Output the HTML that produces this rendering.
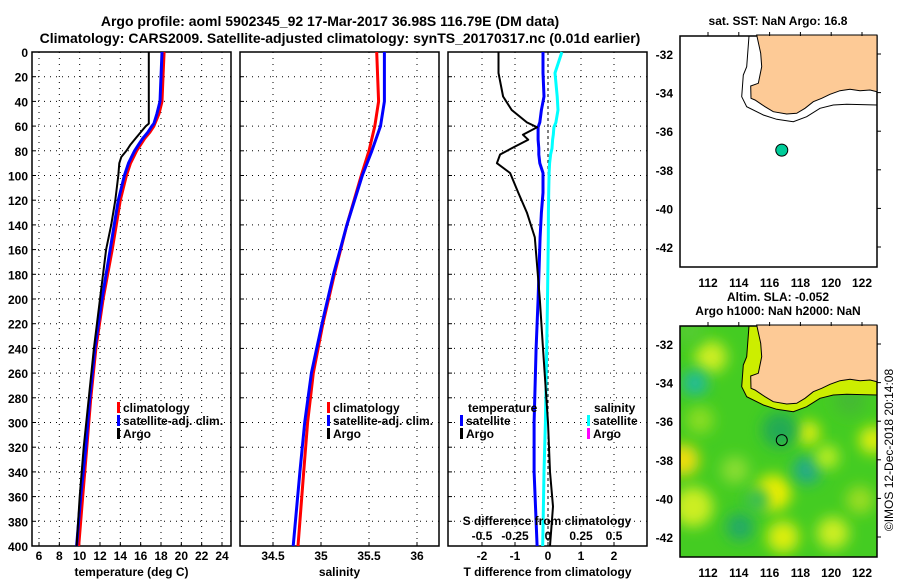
<!DOCTYPE html>
<html><head><meta charset="utf-8"><style>
body{margin:0;background:#fff;}
svg{display:block;font-family:"Liberation Sans",sans-serif;font-weight:bold;}
</style></head><body>
<svg id="chart" width="900" height="580" viewBox="0 0 900 580">
<defs>
<filter id="blur" x="-50%" y="-50%" width="200%" height="200%"><feGaussianBlur stdDeviation="7"/></filter>
<clipPath id="map2clip"><rect x="680" y="326" width="197" height="231"/></clipPath>
</defs>
<text x="330" y="26" font-size="14" text-anchor="middle">Argo profile: aoml 5902345_92 17-Mar-2017 36.98S 116.79E (DM data)</text>
<text x="340" y="43" font-size="14" text-anchor="middle">Climatology: CARS2009. Satellite-adjusted climatology: synTS_20170317.nc (0.01d earlier)</text>
<g id="g"></g>
</svg>
<script>
// ---- data ----
const depthsT = [0,20,40,50,58,60,65,70,75,80,85,90,100,120,140,160,200,240,280,320,360,400];
const tempClim = [18.3,18.2,18.1,17.8,17.4,17.3,16.9,16.4,16.0,15.6,15.3,15.0,14.6,14.0,13.6,13.2,12.3,11.6,11.1,10.7,10.3,9.9];
const tempSat  = [18.1,18.0,17.9,17.6,17.3,17.1,16.7,16.2,15.8,15.4,15.1,14.8,14.4,13.8,13.4,13.0,12.2,11.5,11.0,10.6,10.1,9.7];
const tempArgo = [16.8,16.8,16.8,16.8,16.8,16.5,16.0,15.5,15.0,14.6,14.1,13.9,13.8,13.5,13.1,12.6,12.0,11.4,10.9,10.4,10.0,9.7];
const depthsS = [0,40,60,80,100,140,180,220,260,300,340,400];
const salClim = [35.58,35.6,35.56,35.5,35.42,35.27,35.14,35.02,34.92,34.86,34.82,34.76];
const salSat  = [35.66,35.66,35.62,35.53,35.43,35.27,35.13,35.01,34.9,34.83,34.78,34.71];
const depthsD = [0,17,36,47,57,61,67,71,78,83,90,98,114,130,150,200,240,300,340,368,400];
const dTArgo = [-1.5,-1.5,-1.36,-1.1,-0.64,-0.33,-0.76,-0.6,-1.1,-1.45,-1.55,-1.15,-0.9,-0.64,-0.4,-0.25,-0.15,0.0,0.06,0.15,0.06];
const dTSat  = [-0.15,-0.15,-0.12,-0.2,-0.25,-0.3,-0.3,-0.3,-0.28,-0.28,-0.25,-0.15,-0.15,-0.2,-0.24,-0.3,-0.36,-0.42,-0.42,-0.38,-0.33];
const dSSat  = [0.105,0.053,0.07,0.076,0.06,0.045,0.04,0.035,0.03,0.02,0.012,0.008,0.005,0.003,0.002,-0.004,-0.01,-0.02,-0.03,-0.035,-0.04];
const depthTicks = [0,20,40,60,80,100,120,140,160,180,200,220,240,260,280,300,320,340,360,380,400];
const tempTicks = [6,8,10,12,14,16,18,20,22,24];
const salTicks = [34.5,35,35.5,36];
const dTTicks = [-2,-1,0,1,2];
const dSTicks = [-0.5,-0.25,0,0.25,0.5];
const dSTickLabels = ["-0.5","-0.25","0","0.25","0.5"];
const lonTicks = [112,114,116,118,120,122];
const latTicks = [-32,-34,-36,-38,-40,-42];
const argoLon = [116.79];
const argoLat = [-36.98];

// ---- helpers ----
const NS="http://www.w3.org/2000/svg";
const G=document.getElementById('g');
function mk(tag,attrs,parent){const e=document.createElementNS(NS,tag);for(const k in attrs)e.setAttribute(k,attrs[k]);(parent||G).appendChild(e);return e;}
const top0=52, bot0=546;
const yD = d => top0 + (d/400)*(bot0-top0);
function lin(d0,d1,p0,p1){return v=>p0+(v-d0)/(d1-d0)*(p1-p0);}

function panel(x0,x1,xs,ticks,labels,title,name){
  const grp=mk('g',{});
  
  
  const r=mk('rect',{x:x0,y:top0,width:x1-x0,height:bot0-top0,fill:'#fff',stroke:'#000','stroke-width':1.5},grp);
  
  
  depthTicks.forEach(d=>{ if(d>0&&d<400){
    const l=mk('line',{x1:x0,x2:x1,y1:yD(d),y2:yD(d),stroke:'#000','stroke-dasharray':'1 5','stroke-width':1},grp);
    
    
    mk('line',{x1:x0,x2:x0+4,y1:yD(d),y2:yD(d),stroke:'#000'},grp);
  }});
  ticks.forEach((t,i)=>{
    const X=xs(t);
    const l=mk('line',{x1:X,x2:X,y1:top0,y2:bot0,stroke:'#000','stroke-dasharray':'1 5'},grp);
    
    
    mk('line',{x1:X,x2:X,y1:bot0,y2:bot0-4,stroke:'#000'},grp);
    const tx=mk('text',{x:X,y:560,'font-size':12,'text-anchor':'middle'},grp);
    tx.textContent=labels[i];
    
    
  });
  const tt=mk('text',{x:(x0+x1)/2,y:576,'font-size':12,'text-anchor':'middle'},grp);
  tt.textContent=title;
  
  
  return grp;
}
function series(grp,xs,vals,depths,color,w,name){
  const pts=vals.map((v,i)=>xs(v).toFixed(1)+','+yD(depths[i]).toFixed(1)).join(' ');
  const p=mk('polyline',{points:pts,fill:'none',stroke:color,'stroke-width':w,'stroke-linejoin':'round'},grp);
  
  
}
function legend(grp,x,y,color,label,name){
  const r=mk('rect',{x:x,y:y-10,width:3,height:11,fill:color},grp);
  const t=mk('text',{x:x+6,y:y,'font-size':12},grp);
  t.textContent=label;
  
  
}

// depth labels
depthTicks.forEach(d=>{
  const t=mk('text',{x:28,y:yD(d)+5,'font-size':12,'text-anchor':'end'});
  t.textContent=d;
  
  
});

// panel 1
const xT=lin(6,24,39,222);
const p1=panel(32,231,xT,tempTicks,tempTicks.map(String),'temperature (deg C)','temperature-panel');
series(p1,xT,tempClim,depthsT,'#ff0000',3,'temp-climatology-line');
series(p1,xT,tempSat,depthsT,'#0000ff',3,'temp-satellite-line');
series(p1,xT,tempArgo,depthsT,'#000',2,'temp-argo-line');
legend(p1,117,412,'#ff0000','climatology','legend-climatology');
legend(p1,117,425,'#0000ff','satellite-adj. clim.','legend-satellite-adj');
legend(p1,117,438,'#000','Argo','legend-argo');

// panel 2
const xS=lin(34.5,36,273,417);
const p2=panel(240,439,xS,salTicks,["34.5","35","35.5","36"],'salinity','salinity-panel');
series(p2,xS,salClim,depthsS,'#ff0000',3,'sal-climatology-line');
series(p2,xS,salSat,depthsS,'#0000ff',3,'sal-satellite-line');
legend(p2,327,412,'#ff0000','climatology','legend-climatology');
legend(p2,327,425,'#0000ff','satellite-adj. clim.','legend-satellite-adj');
legend(p2,327,438,'#000','Argo','legend-argo');

// panel 3
const xDT=lin(-2,2,482,614);
const xDS=lin(-0.5,0.5,482,614);
const p3=panel(448,647,xDT,dTTicks,["-2","-1","0","1","2"],'T difference from climatology','difference-panel');
const z=mk('line',{x1:xDT(0),x2:xDT(0),y1:top0,y2:bot0,stroke:'#000','stroke-dasharray':'3 3'},p3);
series(p3,xDT,dTSat,depthsD,'#0000ff',3,'dT-satellite-line');
series(p3,xDS,dSSat,depthsD,'#00ffff',3,'dS-satellite-line');
series(p3,xDT,dTArgo,depthsD,'#000',2,'dT-argo-line');
const lt=mk('text',{x:468,y:412,'font-size':12},p3);lt.textContent='temperature';


legend(p3,460,425,'#0000ff','satellite','legend-temp-satellite');
legend(p3,460,438,'#000','Argo','legend-temp-argo');
const ls=mk('text',{x:594,y:412,'font-size':12},p3);ls.textContent='salinity';


legend(p3,587,425,'#00ffff','satellite','legend-sal-satellite');
legend(p3,587,438,'#ff00ff','Argo','legend-sal-argo');
const st=mk('text',{x:547,y:525,'font-size':12,'text-anchor':'middle'},p3);st.textContent='S difference from climatology';


dSTicks.forEach((t,i)=>{
  const e=mk('text',{x:xDS(t),y:540,'font-size':12,'text-anchor':'middle'},p3);
  e.textContent=dSTickLabels[i];
  
  
});

// ---- maps ----
const lonX=lin(112,122,708,862);
function latY(top){return lin(-32,-42,top+18,top+211);}
const land=[[756.7,35],[760.7,53.3],[761.7,66.7],[760,75],[758.3,83.3],[750.7,86],[751,98.3],[755,100],[765,106.7],[773.3,111.7],[786.7,114],[796.7,113.3],[805,108.3],[813.3,101.7],[821.7,98.3],[830,94.3],[840,90.7],[850,89.3],[860,90.7],[870,90],[877,91.7],[877,35]];
const contour=[[749,36],[746.7,66.7],[743.3,75],[741.7,96.7],[746.7,106.7],[763.3,115],[776.7,119.3],[793.3,121.7],[806.7,116.7],[820,108.3],[833.3,105],[846.7,104.3],[877,105]];
function pstr(a,dy){return a.map(p=>p[0]+','+(p[1]+dy)).join(' ');}
function map(top,dy,sla,name,title1,title2){
  const grp=mk('g',{});
  
  
  const ly=latY(top);
  if(sla){
    const c=mk('g',{'clip-path':'url(#map2clip)'},grp);
    mk('rect',{x:680,y:top,width:197,height:231,fill:'#44cc22'},c);
    const blobs=[[711,357,'#ccee22',16],[695,383,'#22bb99',13],[683,460,'#eedd11',16],[773,493,'#eeee00',18],[807,470,'#22aa88',14],[808,433,'#ddee11',12],[693,507,'#ccee22',20],[740,527,'#22aa66',14],[783,537,'#ddee11',16],[833,533,'#ccee22',16],[873,440,'#ddee11',14],[757,500,'#33bb55',12],[827,457,'#bbee22',12],[780,430,'#22aa55',18],[700,420,'#88dd22',14],[860,500,'#99dd22',14],[690,330,'#55cc33',14],[735,470,'#88dd33',14],[850,400,'#44bb33',16]];
    blobs.forEach(b=>mk('circle',{cx:b[0],cy:b[1],r:b[3],fill:b[2],filter:'url(#blur)'},c));
    mk('polygon',{points:pstr(contour,dy)+' 877,'+(35+dy),fill:'#ccee00'},c);
  }
  const f=mk('rect',{x:680,y:top,width:197,height:231,fill:'none',stroke:'#000','stroke-width':1.5},grp);
  const lp=mk('polygon',{points:pstr(land,dy),fill:'#fdca96',stroke:'#000','stroke-width':1},grp);
  
  
  mk('polyline',{points:pstr(contour,dy),fill:'none',stroke:'#000','stroke-width':1},grp);
  lonTicks.forEach(l=>{
    const X=lonX(l);
    mk('line',{x1:X,x2:X,y1:top,y2:top-4,stroke:'#000'},grp);
    const t=mk('text',{x:X,y:top+251,'font-size':12,'text-anchor':'middle'},grp);t.textContent=l;
    
    
  });
  latTicks.forEach(l=>{
    const Y=ly(l);
    mk('line',{x1:877,x2:881,y1:Y,y2:Y,stroke:'#000'},grp);
    const t=mk('text',{x:673,y:Y+5,'font-size':12,'text-anchor':'end'},grp);t.textContent=l;
    
    
  });
  argoLon.forEach((lo,i)=>{
    const m=mk('circle',{cx:lonX(lo),cy:ly(argoLat[i]),r:sla?5.5:6,fill:sla?'none':'#00cc99',stroke:'#000','stroke-width':1},grp);
    
    
  });
  const t1=mk('text',{x:778,y:top-11-(title2?14:0),'font-size':12,'text-anchor':'middle'},grp);t1.textContent=title1;
  
  
  if(title2){const t2=mk('text',{x:778,y:top-11,'font-size':12,'text-anchor':'middle'},grp);t2.textContent=title2;
    
    }
}
map(36,0,false,'sst-map','sat. SST: NaN Argo: 16.8');
map(326,290,true,'sla-map','Altim. SLA: -0.052','Argo h1000: NaN h2000: NaN');
const cr=mk('text',{x:0,y:0,'font-size':12,'text-anchor':'middle',transform:'translate(893,450) rotate(-90)','font-weight':'normal'});
cr.textContent='©IMOS 12-Dec-2018 20:14:08';


</script>
</body></html>
